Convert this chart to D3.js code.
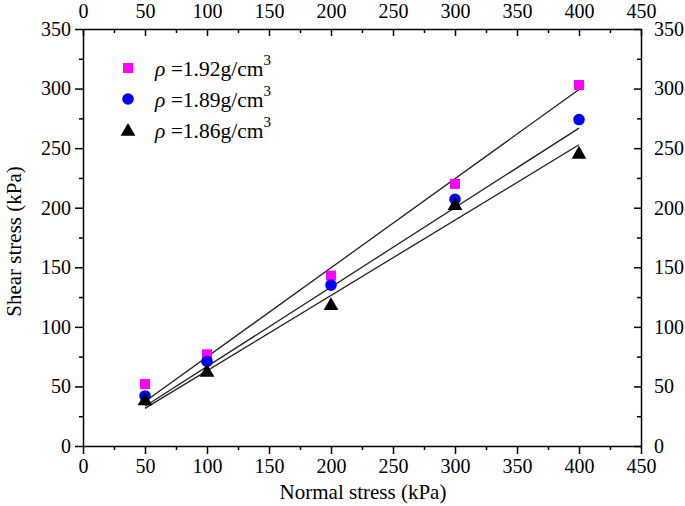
<!DOCTYPE html>
<html><head><meta charset="utf-8">
<script src="https://cdn.jsdelivr.net/npm/d3@7"></script>
<style>body{margin:0;background:#fff}svg{display:block}text{font-family:"Liberation Serif","Times New Roman",serif}</style>
</head><body>
<svg id="c" width="685" height="506"></svg>
<script>
const normalStress = [50, 100, 200, 300, 400];
const shear192 = [52, 77, 143, 220, 303];
const shear189 = [42, 71, 135, 207, 274];
const shear186 = [39, 63, 119, 203, 246];
const fitSlopes = [0.748, 0.667, 0.632];
const seriesLabels = ["1.92g/cm", "1.89g/cm", "1.86g/cm"];
const xTicks = [0, 50, 100, 150, 200, 250, 300, 350, 400, 450];
const yTicks = [0, 50, 100, 150, 200, 250, 300, 350];

const svg = d3.select("#c");
const L = 83, R = 641, T = 29, B = 446;
const x = d3.scaleLinear().domain([0, 450]).range([L, R]);
const y = d3.scaleLinear().domain([0, 350]).range([B, T]);
const fs = 20;

function styleAxis(g) {
  g.selectAll("path.domain").attr("stroke", "#000").attr("stroke-width", 1.5);
  g.selectAll(".tick line").attr("stroke", "#000").attr("stroke-width", 1.5);
  g.selectAll(".tick text").attr("font-size", fs).attr("fill", "#000").style("font-family", '"Liberation Serif", serif');
}
function minor(gg) { gg.select(".domain").remove(); gg.selectAll("line").attr("stroke","#000").attr("stroke-width",1.5); }
const xMinor = d3.range(25, 450, 50);
const yMinor = d3.range(25, 350, 50);

// bottom
let g = svg.append("g").attr("transform", `translate(0,${B})`)
  .call(d3.axisBottom(x).tickValues(xTicks).tickSize(8).tickPadding(5).tickSizeOuter(0));
styleAxis(g);
svg.append("g").attr("transform", `translate(0,${B})`).call(d3.axisBottom(x).tickValues(xMinor).tickSize(4).tickFormat("").tickSizeOuter(0)).call(minor);
// top
g = svg.append("g").attr("transform", `translate(0,${T})`)
  .call(d3.axisTop(x).tickValues(xTicks).tickSize(-7).tickPadding(11).tickSizeOuter(0));
styleAxis(g);
svg.append("g").attr("transform", `translate(0,${T})`).call(d3.axisTop(x).tickValues(xMinor).tickSize(-4).tickFormat("").tickSizeOuter(0)).call(minor);
// left
g = svg.append("g").attr("transform", `translate(${L},0)`)
  .call(d3.axisLeft(y).tickValues(yTicks).tickSize(8).tickPadding(4).tickSizeOuter(0));
styleAxis(g);
svg.append("g").attr("transform", `translate(${L},0)`).call(d3.axisLeft(y).tickValues(yMinor).tickSize(4).tickFormat("").tickSizeOuter(0)).call(minor);
// right
g = svg.append("g").attr("transform", `translate(${R},0)`)
  .call(d3.axisRight(y).tickValues(yTicks).tickSize(-7).tickPadding(13).tickSizeOuter(0));
styleAxis(g);
svg.append("g").attr("transform", `translate(${R},0)`).call(d3.axisRight(y).tickValues(yMinor).tickSize(-4).tickFormat("").tickSizeOuter(0)).call(minor);

// axis titles
svg.append("text").attr("x", 363).attr("y", 499).attr("text-anchor", "middle").attr("font-size", 21).text("Normal stress (kPa)");
svg.append("text").attr("transform", `translate(21,${(T + B) / 2 + 4}) rotate(-90)`).attr("text-anchor", "middle").attr("font-size", 21).text("Shear stress (kPa)");

// fit lines
const xStart = normalStress[0], xEnd = normalStress[normalStress.length - 1];
fitSlopes.forEach(k => {
  svg.append("line").attr("x1", x(xStart)).attr("y1", y(k * xStart)).attr("x2", x(xEnd)).attr("y2", y(k * xEnd))
    .attr("stroke", "#222").attr("stroke-width", 1.3);
});

// markers
const sym = {
  sq: d3.symbol().type(d3.symbolSquare).size(100),
  ci: d3.symbol().type(d3.symbolCircle).size(105),
  tr: d3.symbol().type(d3.symbolTriangle).size(95)
};
const series = [
  {vals: shear192, s: sym.sq, c: "#ff00ff"},
  {vals: shear189, s: sym.ci, c: "#0000ff"},
  {vals: shear186, s: sym.tr, c: "#000000"}
];
series.forEach(se => {
  svg.append("g").selectAll("path").data(se.vals).join("path")
    .attr("d", se.s()).attr("fill", se.c)
    .attr("transform", (d, i) => `translate(${x(normalStress[i])},${y(d) + (se.s === sym.tr ? 1.5 : 0)})`);
});

// legend
const legY = [68, 99, 130];
series.forEach((se, i) => {
  svg.append("path").attr("d", se.s()).attr("fill", se.c).attr("transform", `translate(128,${legY[i] + (i === 2 ? 1.5 : 0)})`);
  const t = svg.append("text").attr("x", 155).attr("y", legY[i] + 8).attr("font-size", 21.5);
  t.append("tspan").attr("font-style", "italic").text("ρ");
  t.append("tspan").text(" =" + seriesLabels[i]);
  t.append("tspan").attr("font-size", 15).attr("dy", -11).text("3");
});
</script>
</body></html>
